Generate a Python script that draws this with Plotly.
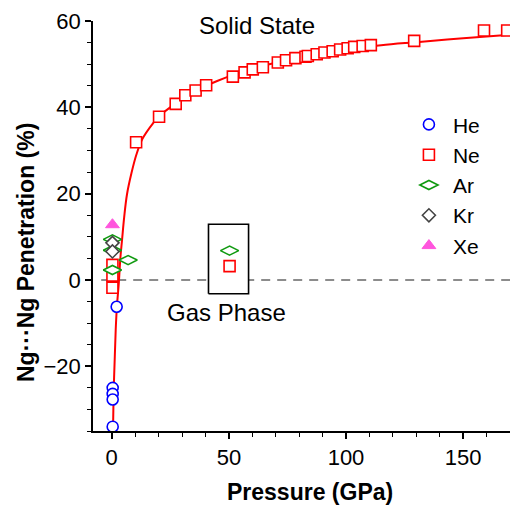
import plotly.graph_objects as go

# ---- data ----
he_p = [2.1, 0.4, 0.4, 0.4, 0.4]
he_v = [-6.2, -25.0, -26.4, -27.7, -34.0]

ne_p = [0.3, 0.3, 0.3, 10.4, 20.2, 27.3, 31.4, 35.8, 40.3, 51.7, 56.7, 60.2, 64.5,
        70.9, 74.4, 78.4, 82.7, 83.7, 87.5, 90.8, 94.3, 97.5, 100.7, 103.5, 107.1,
        110.6, 129.1, 158.9, 168.8, 50.3]
ne_v = [3.5, 1.0, -1.8, 31.9, 37.8, 40.8, 42.8, 43.9, 45.1, 47.1, 48.1, 48.8, 49.3,
        50.4, 50.9, 51.4, 51.7, 51.9, 52.3, 52.7, 53.0, 53.4, 53.7, 54.0, 54.2,
        54.4, 55.4, 57.8, 57.8, 3.2]

ar_p = [0.3, 0.3, 0.3, 7.0, 50.3]
ar_v = [9.4, 6.9, 2.3, 4.6, 6.8]

kr_p = [0.3, 0.3]
kr_v = [8.6, 6.6]

xe_p = [0.3]
xe_v = [12.8]

fit_p = [0.5, 0.6, 0.85, 1.3, 1.7, 2.2, 3.0, 3.7, 4.4, 5.3, 6.5, 8.4, 10.5, 13, 17.6,
         20.2, 27.3, 35, 45, 55, 65, 80, 100, 115, 130, 150, 170]
fit_v = [-37, -33, -25.5, -17.8, -11.5, -6.2, -0.8, 5.2, 9.3, 14.5, 19.8, 24.7, 29.0,
         32.6, 36.3, 37.9, 40.9, 43.6, 46.1, 48.1, 49.7, 51.5, 53.4, 54.4, 55.1, 56.0, 56.8]

zero_p = [-4.5, 170]
zero_v = [0, 0]

box_p = [41.3, 58.4, 58.4, 41.3, 41.3]
box_v = [-3.2, -3.2, 12.9, 12.9, -3.2]

x_range = [-8, 170]
y_range = [-35, 60]
x_ticks = [0, 50, 100, 150]
y_ticks = [-20, 0, 20, 40, 60]

FONT = "Liberation Sans, Arial, Helvetica, sans-serif"
RED = "#ff0000"

fig = go.Figure()

fig.add_trace(go.Scatter(x=zero_p, y=zero_v, mode="lines",
                         line=dict(color="#8c8c8c", width=2, dash="9px,7px"),
                         showlegend=False, hoverinfo="skip"))

fig.add_trace(go.Scatter(x=box_p, y=box_v, mode="lines", fill="toself",
                         fillcolor="white", line=dict(color="black", width=1.6),
                         showlegend=False, hoverinfo="skip"))

fig.add_trace(go.Scatter(x=fit_p, y=fit_v, mode="lines", line_shape="spline",
                         line=dict(color=RED, width=2), showlegend=False,
                         hoverinfo="skip"))

fig.add_trace(go.Scatter(x=ne_p, y=ne_v, mode="markers", name="Ne", legendrank=2,
                         marker=dict(symbol="square", size=11, color="white",
                                     line=dict(color=RED, width=1.6))))
fig.add_trace(go.Scatter(x=he_p, y=he_v, mode="markers", name="He", legendrank=1,
                         marker=dict(symbol="circle", size=11, color="white",
                                     line=dict(color="#0000ff", width=1.6))))
fig.add_trace(go.Scatter(x=ar_p, y=ar_v, mode="markers", name="Ar", legendrank=3,
                         marker=dict(symbol="diamond-wide", size=13, color="white",
                                     line=dict(color="#109a10", width=1.6))))
fig.add_trace(go.Scatter(x=kr_p, y=kr_v, mode="markers", name="Kr", legendrank=4,
                         marker=dict(symbol="diamond", size=10, color="white",
                                     line=dict(color="#444444", width=1.6))))
fig.add_trace(go.Scatter(x=xe_p, y=xe_v, mode="markers", name="Xe", legendrank=5,
                         marker=dict(symbol="triangle-up", size=12, color="#ff55dd",
                                     line=dict(color="#ff55dd", width=1))))

axis_common = dict(showline=True, linecolor="black", linewidth=1.6, ticks="outside",
                   ticklen=6, tickwidth=1.6, tickcolor="black", showgrid=False,
                   zeroline=False, tickfont=dict(family=FONT, size=22, color="black"),
                   mirror=False, automargin=False)

fig.update_xaxes(range=x_range, tickvals=x_ticks,
                 minor=dict(dtick=10, tick0=0, ticks="outside", ticklen=4,
                            tickwidth=1.4, tickcolor="black", showgrid=False),
                 **axis_common)
fig.update_yaxes(range=y_range, tickvals=y_ticks,
                 minor=dict(dtick=5, tick0=0, ticks="outside", ticklen=4,
                            tickwidth=1.4, tickcolor="black", showgrid=False),
                 **axis_common)

L, R, T, B, W, H = 93, 0, 21, 75, 510, 506
pw, ph = W - L - R, H - T - B

fig.add_annotation(text="Solid State", x=62, y=59, xref="x", yref="y",
                   showarrow=False, font=dict(family=FONT, size=24, color="black"))
fig.add_annotation(text="Gas Phase", x=48.8, y=-7.6, xref="x", yref="y",
                   showarrow=False, font=dict(family=FONT, size=24, color="black"))
fig.add_annotation(text="<b>Pressure (GPa)</b>", xref="paper", yref="paper",
                   x=(310 - L) / pw, y=-(492 - (H - B)) / ph,
                   xanchor="center", yanchor="middle", showarrow=False,
                   font=dict(family=FONT, size=23, color="black"))
fig.add_annotation(text="<b>Ng···Ng Penetration (%)</b>", textangle=-90,
                   xref="paper", yref="paper", x=(26 - L) / pw, y=((H - B) - 253) / ph,
                   xanchor="center", yanchor="middle", showarrow=False,
                   font=dict(family=FONT, size=23, color="black"))

fig.update_layout(
    width=W, height=H,
    margin=dict(l=L, r=R, t=T, b=B, autoexpand=False),
    plot_bgcolor="white", paper_bgcolor="white",
    font=dict(family=FONT, color="black"),
    legend=dict(x=0.748, y=0.797, xanchor="left", yanchor="top",
                font=dict(family=FONT, size=21, color="black"),
                bgcolor="rgba(0,0,0,0)", borderwidth=0, tracegroupgap=0,
                itemwidth=38),
)

fig.write_html(
    "out.html",
    config={"displayModeBar": False},
    post_script="document.body.style.margin='0';document.body.style.padding='0';"
                "document.body.style.overflow='hidden';"
                "document.documentElement.style.overflow='hidden';",
)
